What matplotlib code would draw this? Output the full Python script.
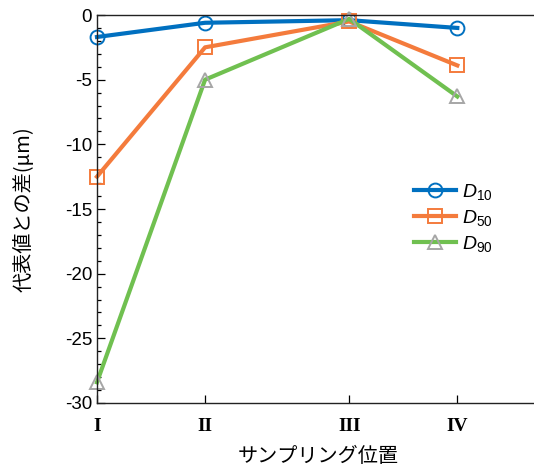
import matplotlib
matplotlib.use("Agg")
import matplotlib.pyplot as plt
from matplotlib.ticker import MultipleLocator


# --------------------------------------------------
# 1. DATA
# --------------------------------------------------

positions = [0, 3, 7, 10]
position_labels = ["I", "II", "III", "IV"]

d10 = [-1.7, -0.6, -0.4, -1.0]
d50 = [-12.5, -2.5, -0.5, -3.9]
d90 = [-28.4, -5.0, -0.3, -6.3]


# --------------------------------------------------
# 2. FONTS
# --------------------------------------------------

plt.rcParams["font.family"] = ["Liberation Sans", "Noto Sans CJK JP", "DejaVu Sans"]
plt.rcParams["axes.unicode_minus"] = False
plt.rcParams["mathtext.fontset"] = "custom"
plt.rcParams["mathtext.rm"] = "Liberation Sans"
plt.rcParams["mathtext.it"] = "Liberation Sans:italic"


# --------------------------------------------------
# 3. FIGURE
# --------------------------------------------------

fig = plt.figure(figsize=(5.34, 4.66), dpi=100)
ax = fig.add_axes([0.1816, 0.1352, 0.83, 0.8326])

series = [
    (d10, "#0070C0", "o", "#0070C0", r"$D_{\mathrm{10}}$"),
    (d50, "#F47B3C", "s", "#F47B3C", r"$D_{\mathrm{50}}$"),
    (d90, "#70C050", "^", "#A6A6A6", r"$D_{\mathrm{90}}$"),
]

for values, line_color, marker, edge_color, label in series:
    ax.plot(
        positions,
        values,
        color=line_color,
        linewidth=3.0,
        marker=marker,
        markersize=10,
        markerfacecolor="none",
        markeredgecolor=edge_color,
        markeredgewidth=1.4,
        label=label,
        clip_on=False,
    )


# --------------------------------------------------
# 4. AXES
# --------------------------------------------------

ax.set_xlim(0, 12.3)
ax.set_ylim(-30, 0)

ax.set_xticks(positions)
ax.set_xticklabels(
    position_labels,
    fontfamily="Liberation Serif",
    fontweight="bold",
    fontsize=14,
)

ax.yaxis.set_major_locator(MultipleLocator(5))
ax.yaxis.set_minor_locator(MultipleLocator(1))
ax.tick_params(axis="y", labelsize=13.5, direction="in", length=6, width=0.9)
ax.tick_params(axis="y", which="minor", direction="in", length=3, width=0.9)
ax.tick_params(axis="x", direction="in", length=6, width=0.9, pad=11)

ax.spines["right"].set_visible(False)
for side in ["left", "bottom", "top"]:
    ax.spines[side].set_linewidth(1.0)
    ax.spines[side].set_color("#222222")

ax.set_xlabel("サンプリング位置", fontsize=14.5, fontfamily="Noto Sans CJK JP", labelpad=8)
ax.set_ylabel("代表値との差(μm)", fontsize=14.5, fontfamily="Noto Sans CJK JP")
ax.yaxis.set_label_coords(-0.14, 0.5)

ax.legend(
    loc="upper left",
    bbox_to_anchor=(0.675, 0.615),
    frameon=False,
    fontsize=14,
    handlelength=2.2,
    handletextpad=0.3,
    labelspacing=0.3,
)

fig.savefig("out.png", dpi=100)
